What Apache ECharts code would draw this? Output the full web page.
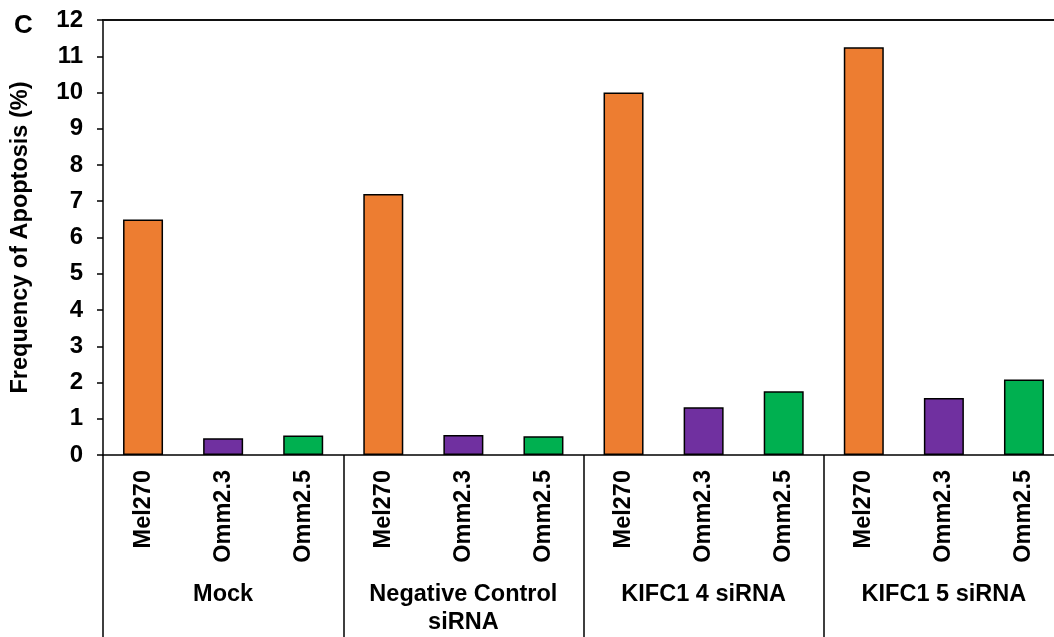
<!DOCTYPE html>
<html>
<head>
<meta charset="utf-8">
<title>Frequency of Apoptosis</title>
<script src="https://cdn.jsdelivr.net/npm/echarts@6/dist/echarts.min.js"></script>
<style>
  html, body { margin: 0; padding: 0; background: #fff; }
  #chart { width: 1054px; height: 637px; }
</style>
</head>
<body>
<div id="chart"></div>
<script>
// Treatment groups and the cell lines measured in each
const groups = ['Mock', 'Negative Control\nsiRNA', 'KIFC1 4 siRNA', 'KIFC1 5 siRNA'];
const cellLines = ['Mel270', 'Omm2.3', 'Omm2.5'];

// Frequency of apoptosis (%) per cell line, one value per group
const mel270 = [6.5, 7.2, 10.0, 11.25];
const omm23 = [0.46, 0.55, 1.32, 1.57];
const omm25 = [0.54, 0.52, 1.76, 2.08];

const yTicks = [0, 1, 2, 3, 4, 5, 6, 7, 8, 9, 10, 11, 12];

const lineColors = { 'Mel270': '#ED7D31', 'Omm2.3': '#7030A0', 'Omm2.5': '#00B050' };
const valuesByLine = { 'Mel270': mel270, 'Omm2.3': omm23, 'Omm2.5': omm25 };

// Flatten into one category per bar: group x cell line
const categories = [];
const barData = [];
groups.forEach((g, gi) => {
  cellLines.forEach(c => {
    categories.push(c);
    barData.push({ value: valuesByLine[c][gi], itemStyle: { color: lineColors[c] } });
  });
});

const FONT = '"Liberation Sans", Arial, sans-serif';

const chart = echarts.init(document.getElementById('chart'), null, { renderer: 'canvas' });
chart.setOption({
  animation: false,
  backgroundColor: '#ffffff',
  title: {
    text: 'C',
    left: 9,
    top: 8,
    textStyle: { fontFamily: FONT, fontSize: 26, fontWeight: 'bold', color: '#000' }
  },
  grid: { left: 103, top: 20, width: 961, height: 435, containLabel: false, outerBoundsMode: 'none' },
  xAxis: [
    {
      type: 'category',
      data: categories,
      position: 'bottom',
      axisLine: { show: true, lineStyle: { color: '#000', width: 1.5 } },
      axisTick: { show: false },
      axisLabel: {
        rotate: 90,
        margin: 15,
        interval: 0,
        fontFamily: FONT,
        fontSize: 23.5,
        fontWeight: 'bold',
        color: '#000'
      },
      splitLine: { show: false }
    },
    {
      type: 'category',
      data: groups,
      position: 'bottom',
      axisLine: { show: false },
      axisTick: { show: true, length: 185, interval: 0, lineStyle: { color: '#000', width: 1.5 } },
      axisLabel: {
        interval: 0,
        margin: 126,
        fontFamily: FONT,
        fontSize: 23.5,
        fontWeight: 'bold',
        lineHeight: 28,
        color: '#000'
      },
      splitLine: { show: false }
    },
    {
      type: 'category',
      data: groups,
      position: 'top',
      axisLine: { show: true, lineStyle: { color: '#111', width: 2 } },
      axisTick: { show: false },
      axisLabel: { show: false },
      splitLine: { show: false }
    }
  ],
  yAxis: {
    type: 'value',
    min: yTicks[0],
    max: yTicks[yTicks.length - 1],
    interval: 1,
    name: 'Frequency of Apoptosis (%)',
    nameLocation: 'middle',
    nameRotate: 90,
    nameGap: 70,
    nameTextStyle: { fontFamily: FONT, fontSize: 23.5, fontWeight: 'bold', color: '#000' },
    axisLine: { show: true, lineStyle: { color: '#000', width: 1.5 } },
    axisTick: { show: true, length: 6, inside: false, lineStyle: { color: '#000', width: 1.5 } },
    axisLabel: {
      margin: 20,
      fontFamily: FONT,
      fontSize: 24,
      fontWeight: 'bold',
      color: '#000'
    },
    splitLine: { show: false }
  },
  series: [
    {
      type: 'bar',
      xAxisIndex: 0,
      data: barData,
      barWidth: 40,
      itemStyle: { borderColor: '#000', borderWidth: 1.5 }
    }
  ]
});
</script>
</body>
</html>
